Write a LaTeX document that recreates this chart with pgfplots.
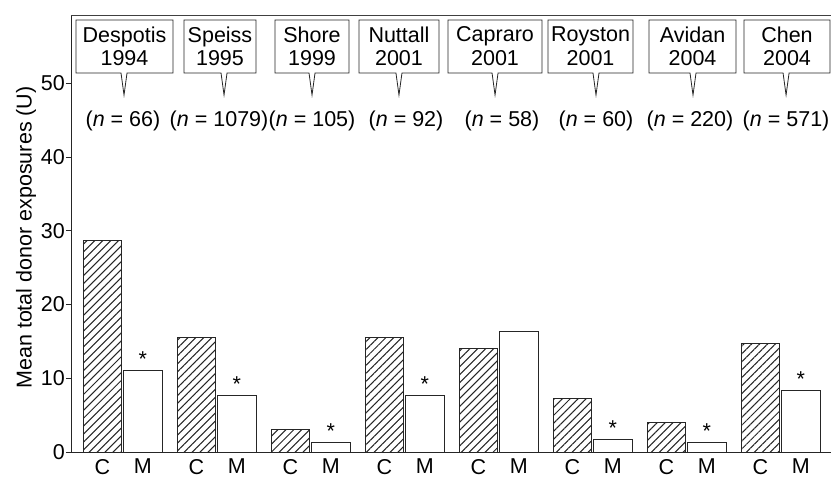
\documentclass[border=0pt]{standalone}
\usepackage{pgfplots}
\pgfplotsset{compat=1.18}
\usepackage{fontspec}
\setmainfont{Liberation Sans}
\usetikzlibrary{patterns.meta}
\newcommand{\callout}[5]{%
  \draw[black!85, line width=0.8pt, fill=white]
    (axis cs:#1,58.58) -- (axis cs:#2,58.58) -- (axis cs:#2,51.39) --
    (axis cs:#4,51.39) -- (axis cs:#3,48.4) -- (axis cs:#5,51.39) --
    (axis cs:#1,51.39) -- cycle;
}
\begin{document}
\begin{tikzpicture}[font=\fontsize{21.5}{23.5}\selectfont]
\begin{axis}[name=ax, scale only axis, width=760pt, height=437pt,
  xmin=-0.548, xmax=7.537, ymin=0, ymax=59.25,
  axis lines=left, axis line style={-, black!85, line width=0.9pt},
  ytick={0,10,20,30,40,50}, tick align=outside, major tick length=5pt,
  ytick style={black!85, line width=0.9pt},
  yticklabel style={inner sep=0pt, xshift=-1pt},
  xtick={-0.215,0.215,0.785,1.215,1.785,2.215,2.785,3.215,3.785,4.215,4.785,5.215,5.785,6.215,6.785,7.215},
  xticklabels={C,M,C,M,C,M,C,M,C,M,C,M,C,M,C,M},
  xtick style={draw=none},
  xticklabel style={inner sep=0pt, yshift=-2pt},
  /pgf/number format/assume math mode=true,
  ylabel={Mean total donor exposures (U)},
  every axis y label/.style={at={(rel axis cs:0,0.5)}, xshift=-45pt, yshift=-4pt, rotate=90, anchor=center},
  clip=false,
  bar width=0.41,
]
\addplot[ybar, bar shift=0pt, draw=black!85, line width=0.9pt,
  pattern={Lines[angle=45,distance=5.6pt,line width=1.05pt]}, pattern color=black!85]
  coordinates {(-0.215,28.7) (0.785,15.55) (1.785,3.06) (2.785,15.55)
               (3.785,14.0) (4.785,7.27) (5.785,4.0) (6.785,14.7)};
\addplot[ybar, bar shift=0pt, draw=black!85, line width=0.9pt, fill=white,
  nodes near coords, point meta=explicit symbolic]
  coordinates {(0.215,11.1) [*] (1.215,7.7) [*] (2.215,1.3) [*] (3.215,7.7) [*]
               (4.215,16.3) [{}] (5.215,1.7) [*] (6.215,1.3) [*] (7.215,8.35) [*]};
\draw[black!75, line width=0.9pt] (rel axis cs:0,1) -- (rel axis cs:1,1);
% callouts: left, right, tail, tail+, tail-
\callout{-0.495}{0.537}{0.016}{0.048}{-0.016}
\callout{0.654}{1.420}{1.080}{1.112}{1.048}
\callout{1.622}{2.410}{2.016}{2.048}{1.984}
\callout{2.516}{3.367}{2.941}{2.973}{2.909}
\callout{3.463}{4.463}{3.963}{3.995}{3.931}
\callout{4.527}{5.431}{5.037}{5.069}{5.005}
\callout{5.601}{6.527}{6.069}{6.101}{6.037}
\callout{6.612}{7.527}{7.059}{7.091}{7.027}
\node[align=center] at (axis cs:0.021,55.0) {Despotis\\1994};
\node[align=center] at (axis cs:1.037,55.0) {Speiss\\1995};
\node[align=center] at (axis cs:2.016,55.0) {Shore\\1999};
\node[align=center] at (axis cs:2.941,55.0) {Nuttall\\2001};
\node[align=center] at (axis cs:3.963,55.0) {Capraro\\2001};
\node[align=center] at (axis cs:4.979,55.0) {Royston\\2001};
\node[align=center] at (axis cs:6.064,55.0) {Avidan\\2004};
\node[align=center] at (axis cs:7.069,55.0) {Chen\\2004};
\node at (axis cs:0.005,44.9) {(\textit{n} = 66)};
\node at (axis cs:1.027,44.9) {(\textit{n} = 1079)};
\node at (axis cs:2.016,44.9) {(\textit{n} = 105)};
\node at (axis cs:3.016,44.9) {(\textit{n} = 92)};
\node at (axis cs:4.037,44.9) {(\textit{n} = 58)};
\node at (axis cs:5.037,44.9) {(\textit{n} = 60)};
\node at (axis cs:6.037,44.9) {(\textit{n} = 220)};
\node at (axis cs:7.059,44.9) {(\textit{n} = 571)};
\end{axis}
\pgfresetboundingbox
\path ([shift={(-71pt,-26pt)}]ax.south west) rectangle ([shift={(0pt,15pt)}]ax.north east);
\end{tikzpicture}
\end{document}
